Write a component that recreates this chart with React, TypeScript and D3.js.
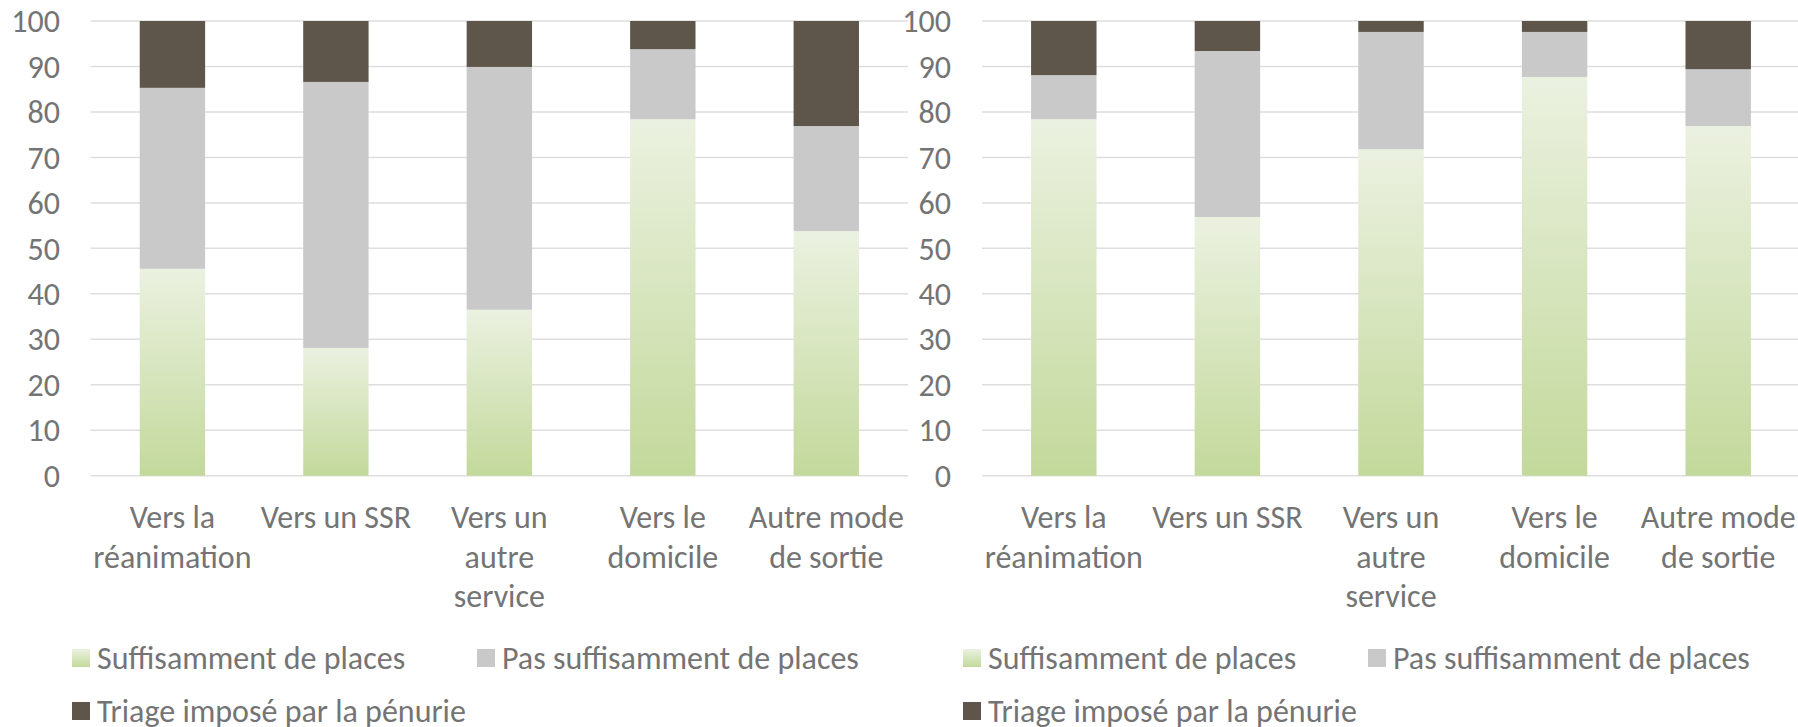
import * as d3 from 'd3';

const categories = [
  ['Vers la', 'réanimation'],
  ['Vers un SSR'],
  ['Vers un', 'autre', 'service'],
  ['Vers le', 'domicile'],
  ['Autre mode', 'de sortie'],
];
const seriesNames = ['Suffisamment de places', 'Pas suffisamment de places', 'Triage imposé par la pénurie'];

// left panel
const leftSuffisant = [45.5, 28.1, 36.5, 78.4, 53.8];
const leftPasSuffisant = [39.8, 58.5, 53.4, 15.4, 23.1];
const leftTriage = [14.7, 13.4, 10.1, 6.2, 23.1];

// right panel
const rightSuffisant = [78.4, 56.9, 71.8, 87.7, 76.9];
const rightPasSuffisant = [9.7, 36.5, 25.8, 9.9, 12.5];
const rightTriage = [11.9, 6.6, 2.4, 2.4, 10.6];

const yTicks = [0, 10, 20, 30, 40, 50, 60, 70, 80, 90, 100];

const W = 1798;
const H = 727;
const font = 'Carlito, Calibri, Lato, sans-serif';
const fontSize = 32;
const textColor = '#747474';
const colors = ['url(#greenGrad)', '#c9c9c9', '#5e564a'];

function Panel({ x0, x1, labelX, suff, pas, tri }) {
  const rows = categories.map((c, i) => ({ i, s: suff[i], p: pas[i], t: tri[i] }));
  const stacked = d3.stack().keys(['s', 'p', 't'])(rows);

  const x = d3
    .scaleBand()
    .domain(d3.range(categories.length))
    .range([x0, x1])
    .paddingInner(0.6)
    .paddingOuter(0.3);
  const y = d3.scaleLinear().domain([0, 100]).range([475.7, 21]);

  return (
    <g>
      {yTicks.map(t => (
        <g key={t}>
          <line x1={x0} x2={x1} y1={y(t)} y2={y(t)} stroke="#dedede" strokeWidth={1.5} />
          <text
            x={labelX}
            y={y(t)}
            dy="0.35em"
            textAnchor="end"
            fontFamily={font}
            fontSize={fontSize}
            fill={textColor}
          >
            {t}
          </text>
        </g>
      ))}
      {stacked.map((layer, k) => (
        <g key={k} fill={colors[k]}>
          {layer.map((d, i) => (
            <rect
              key={i}
              x={x(i)}
              width={x.bandwidth()}
              y={y(d[1])}
              height={y(d[0]) - y(d[1])}
            />
          ))}
        </g>
      ))}
      {categories.map((lines, i) => (
        <text
          key={i}
          textAnchor="middle"
          fontFamily={font}
          fontSize={fontSize}
          fill={textColor}
        >
          {lines.map((l, j) => (
            <tspan key={j} x={x(i) + x.bandwidth() / 2} y={517 + j * 39.5} dy="0.35em">
              {l}
            </tspan>
          ))}
        </text>
      ))}
    </g>
  );
}

function Legend({ x0, x1 }) {
  const items = [
    { name: seriesNames[0], fill: colors[0], x: x0, y: 658 },
    { name: seriesNames[1], fill: colors[1], x: x1, y: 658 },
    { name: seriesNames[2], fill: colors[2], x: x0, y: 711 },
  ];
  return (
    <g>
      {items.map(it => (
        <g key={it.name}>
          <rect x={it.x} y={it.y - 9} width={18} height={18} fill={it.fill} />
          <text
            x={it.x + 25}
            y={it.y}
            dy="0.35em"
            fontFamily={font}
            fontSize={fontSize}
            fill={textColor}
          >
            {it.name}
          </text>
        </g>
      ))}
    </g>
  );
}

export default function App() {
  return (
    <svg
      width={W}
      height={H}
      style={{ position: 'absolute', left: 0, top: 0, background: '#fff' }}
    >
      <defs>
        <linearGradient id="greenGrad" x1="0" y1="1" x2="0" y2="0">
          <stop offset="0" stopColor="#c3d99b" />
          <stop offset="1" stopColor="#ebf1e0" />
        </linearGradient>
      </defs>
      <Panel x0={90.7} x1={908} labelX={60} suff={leftSuffisant} pas={leftPasSuffisant} tri={leftTriage} />
      <Panel x0={982} x1={1800} labelX={951} suff={rightSuffisant} pas={rightPasSuffisant} tri={rightTriage} />
      <Legend x0={72} x1={477} />
      <Legend x0={963} x1={1368} />
    </svg>
  );
}
